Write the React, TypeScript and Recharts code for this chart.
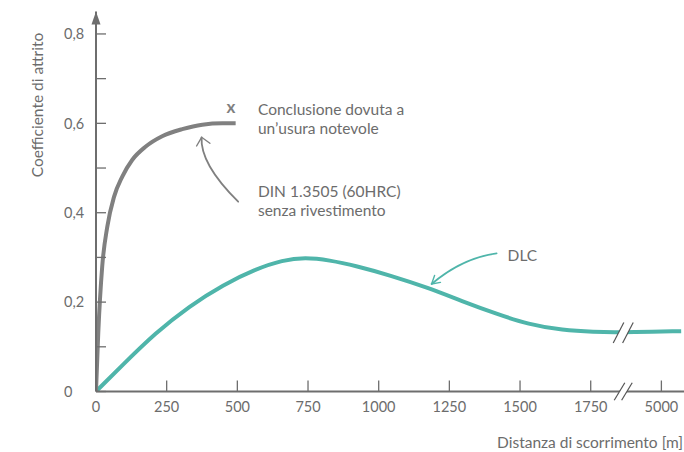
import React from 'react';
import { LineChart, Line, XAxis, YAxis, ReferenceDot } from 'recharts';

// DIN 1.3505 (60HRC) senza rivestimento
const dinDist = [0, 8, 22, 40, 64, 93, 128, 176, 234, 305, 376, 447, 494];
const dinCoef = [0, 0.131, 0.28, 0.369, 0.436, 0.481, 0.518, 0.548, 0.571, 0.587, 0.597, 0.6, 0.6];

// DLC
const dlcDist = [0, 95, 210, 330, 450, 565, 660, 740, 825, 920, 1040, 1175, 1295, 1415, 1530, 1650, 1765, 1840, 4885, 5070];
const dlcCoef = [0, 0.06, 0.131, 0.191, 0.239, 0.274, 0.294, 0.3, 0.294, 0.281, 0.26, 0.232, 0.202, 0.174, 0.15, 0.137, 0.133, 0.1325, 0.133, 0.135];

const xTickValues = [0, 250, 500, 750, 1000, 1250, 1500, 1750, 5000];
const yTickValues = [0, 0.1, 0.2, 0.3, 0.4, 0.5, 0.6, 0.7, 0.8];
const yTickLabels = ['0', '', '0,2', '', '0,4', '', '0,6', '', '0,8'];

const BREAK_GAP = 3000; // distances above the break are shifted left by this amount
const BREAK_AT = 1865;
const X_MAX = 5080;
const Y_MAX = 0.85;

const toPos = (d: number) => (d > 3000 ? d - BREAK_GAP : d);
const fromPos = (p: number) => (p > BREAK_AT ? p + BREAK_GAP : p);

const dinData = dinDist.map((d, i) => ({ pos: toPos(d), v: dinCoef[i] }));
const dlcData = dlcDist.map((d, i) => ({ pos: toPos(d), v: dlcCoef[i] }));

const FONT = 'Lato, "Open Sans", sans-serif';
const TXT = '#6c6c6c';
const AXIS = '#6e6e6e';
const TEAL = '#4fb5aa';
const GRAY = '#808080';
const FS = 15.5;
const TICK_FS = 14.5;

const XTick = (props: any) => {
  const { x, y, payload } = props;
  return (
    <g>
      <line x1={x} x2={x} y1={y} y2={y - 11} stroke={AXIS} strokeWidth={1.3} />
      <text x={x} y={y + 20} textAnchor="middle" fill={TXT} fontSize={TICK_FS} fontFamily={FONT} fontWeight={400}>
        {String(fromPos(payload.value))}
      </text>
    </g>
  );
};

const YTick = (props: any) => {
  const { x, y, index } = props;
  return (
    <g>
      <line x1={x} x2={x + 10} y1={y} y2={y} stroke={AXIS} strokeWidth={1.3} />
      <text x={x - 32} y={y} dy="0.36em" textAnchor="start" fill={TXT} fontSize={TICK_FS} fontFamily={FONT} fontWeight={400}>
        {yTickLabels[index]}
      </text>
    </g>
  );
};

const BreakMark = (w: number, h: number) => (props: any) => {
  const { cx, cy } = props;
  const a = { x1: cx - w / 2 - 5.3, y1: cy + h, x2: cx - w / 2 + 5.3, y2: cy - h };
  const b = { x1: cx + w / 2 - 5.3, y1: cy + h, x2: cx + w / 2 + 5.3, y2: cy - h };
  return (
    <g>
      <polygon
        points={`${a.x1},${a.y1} ${a.x2},${a.y2} ${b.x2},${b.y2} ${b.x1},${b.y1}`}
        fill="#ffffff"
      />
      <line {...a} stroke="#555" strokeWidth={1.2} />
      <line {...b} stroke="#555" strokeWidth={1.2} />
    </g>
  );
};

const ArrowUp = (props: any) => {
  const { cx, cy } = props;
  return <polygon points={`${cx},${cy} ${cx + 4.5},${cy + 13} ${cx - 4.5},${cy + 13}`} fill={AXIS} />;
};

const TextLines = (lines: string[]) => (props: any) => {
  const { cx, cy } = props;
  return (
    <text x={cx} y={cy} fill={TXT} fontSize={FS} fontFamily={FONT} fontWeight={400}>
      {lines.map((l, i) => (
        <tspan key={i} x={cx} dy={i === 0 ? 0 : 19}>
          {l}
        </tspan>
      ))}
    </text>
  );
};

const EndMark = (props: any) => {
  const { cx, cy } = props;
  return (
    <text x={cx} y={cy} textAnchor="middle" fill={GRAY} fontSize={17} fontWeight={700} fontFamily={FONT}>
      x
    </text>
  );
};

const YTitle = (props: any) => {
  const { cx, cy } = props;
  const x = cx - 53;
  return (
    <text
      x={x}
      y={cy}
      transform={`rotate(-90, ${x}, ${cy})`}
      textAnchor="middle"
      fill={TXT}
      fontSize={FS}
      fontFamily={FONT}
      fontWeight={400}
    >
      Coefficiente di attrito
    </text>
  );
};

const XTitle = (props: any) => {
  const { cx, cy } = props;
  return (
    <text x={cx - 1} y={cy} textAnchor="end" fill={TXT} fontSize={FS} fontFamily={FONT} fontWeight={400}>
      Distanza di scorrimento [m]
    </text>
  );
};

const GrayArrow = (props: any) => {
  const { cx, cy } = props;
  return (
    <g fill="none" stroke={GRAY} strokeLinecap="round" strokeLinejoin="round">
      <path strokeWidth={1.8} d={`M${cx},${cy} Q${cx - 38.3},${cy - 37.8} ${cx - 36.6},${cy - 64.4}`} />
      <path strokeWidth={1.4} d={`M${cx - 41.6},${cy - 55.7} L${cx - 36.6},${cy - 64.4} L${cx - 28.3},${cy - 58.4}`} />
    </g>
  );
};

const TealArrow = (props: any) => {
  const { cx, cy } = props;
  return (
    <g fill="none" stroke={TEAL} strokeLinecap="round" strokeLinejoin="round">
      <path strokeWidth={1.8} d={`M${cx},${cy} Q${cx - 34.3},${cy + 4.7} ${cx - 65},${cy + 30.7}`} />
      <path strokeWidth={1.4} d={`M${cx - 62},${cy + 22.2} L${cx - 65},${cy + 30.7} L${cx - 56.1},${cy + 29.1}`} />
    </g>
  );
};

export default function App() {
  return (
    <div style={{ position: 'absolute', left: 0, top: 0, width: 684, height: 452, background: '#fff' }}>
      <LineChart width={684} height={452} margin={{ top: 11.6, right: 0, bottom: 0, left: 0 }}>
        <XAxis
          type="number"
          dataKey="pos"
          domain={[0, toPos(X_MAX)]}
          allowDataOverflow
          ticks={xTickValues.map(toPos)}
          interval={0}
          height={60.5}
          tickSize={0}
          tickMargin={0}
          tickLine={false}
          axisLine={{ stroke: AXIS, strokeWidth: 2 }}
          tick={<XTick />}
        />
        <YAxis
          type="number"
          domain={[0, Y_MAX]}
          allowDataOverflow
          ticks={yTickValues}
          interval={0}
          width={96}
          tickSize={0}
          tickMargin={0}
          tickLine={false}
          axisLine={{ stroke: AXIS, strokeWidth: 2 }}
          tick={<YTick />}
        />
        <Line
          data={dlcData}
          dataKey="v"
          type="basis"
          stroke={TEAL}
          strokeWidth={4}
          dot={false}
          isAnimationActive={false}
        />
        <Line
          data={dinData}
          dataKey="v"
          type="monotone"
          stroke={GRAY}
          strokeWidth={4}
          dot={false}
          isAnimationActive={false}
        />
        <ReferenceDot x={0} y={Y_MAX} r={0} ifOverflow="visible" shape={ArrowUp} />
        <ReferenceDot x={BREAK_AT} y={0} r={0} ifOverflow="visible" shape={BreakMark(7.4, 8.8)} />
        <ReferenceDot x={BREAK_AT} y={0.1315} r={0} ifOverflow="visible" shape={BreakMark(9.4, 10.3)} />
        <ReferenceDot x={477} y={0.624} r={0} ifOverflow="visible" shape={EndMark} />
        <ReferenceDot x={573} y={0.619} r={0} ifOverflow="visible" shape={TextLines(['Conclusione dovuta a', 'un\u2019usura notevole'])} />
        <ReferenceDot x={573} y={0.435} r={0} ifOverflow="visible" shape={TextLines(['DIN 1.3505 (60HRC)', 'senza rivestimento'])} />
        <ReferenceDot x={1456} y={0.2927} r={0} ifOverflow="visible" shape={TextLines(['DLC'])} />
        <ReferenceDot x={503} y={0.4247} r={0} ifOverflow="visible" shape={GrayArrow} />
        <ReferenceDot x={1417} y={0.3092} r={0} ifOverflow="visible" shape={TealArrow} />
        <ReferenceDot x={0} y={0.641} r={0} ifOverflow="visible" shape={YTitle} />
        <ReferenceDot x={toPos(X_MAX)} y={-0.1264} r={0} ifOverflow="visible" shape={XTitle} />
      </LineChart>
    </div>
  );
}
